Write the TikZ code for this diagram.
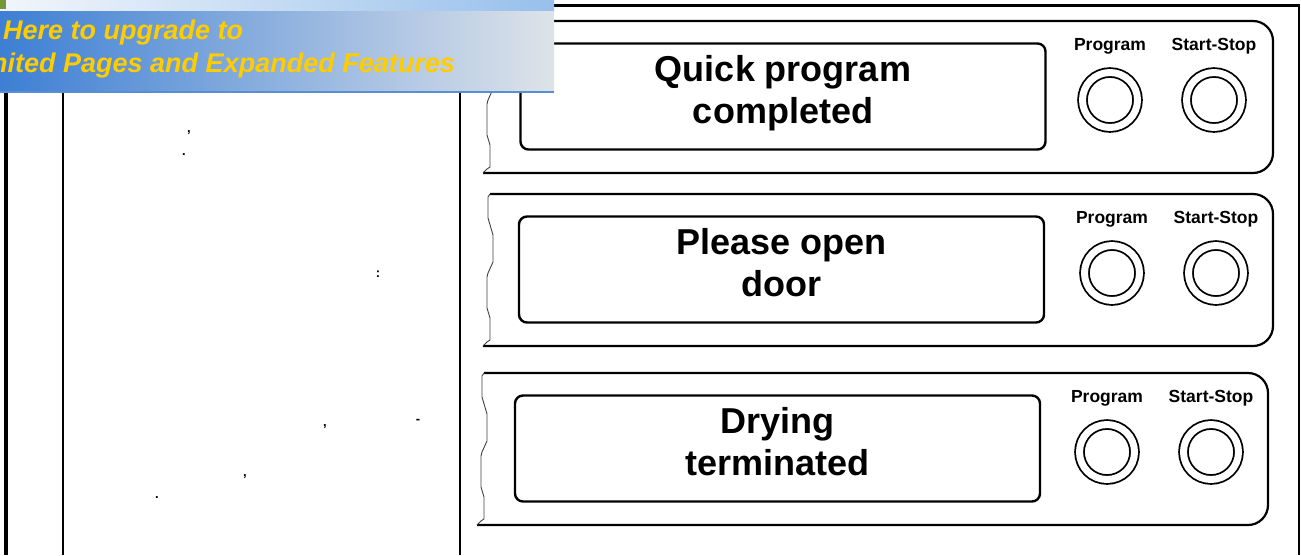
\documentclass[tikz,border=0pt]{standalone}
\usepackage{fontspec}
\setmainfont{Liberation Sans}
\usetikzlibrary{positioning}
\definecolor{bannerL}{HTML}{3D7FD4}
\definecolor{bannerM}{HTML}{8DB1DB}
\definecolor{bannerR}{HTML}{DEE3E9}
\definecolor{stripL}{HTML}{F2F6FB}
\definecolor{stripR}{HTML}{97C0EC}
\definecolor{bannerEdge}{HTML}{5A8ED2}
\definecolor{upgradeYellow}{HTML}{FFCC00}
\definecolor{iconGreen}{HTML}{76963A}

\begin{document}
\begin{tikzpicture}[
  x=1pt,y=-1pt,
  rule/.style={line width=2pt},
  panel/.style={line width=2.2pt, line join=round, rounded corners=20pt},
  torn/.style={line width=0.9pt, black!75},
  display/.style={draw, line width=2.4pt, rounded corners=8pt, minimum width=525pt, minimum height=106pt, align=center, font=\fontsize{36}{42}\selectfont\bfseries, inner sep=0pt, text depth=15pt},
  knob/.style={circle, draw, line width=1.8pt, double, double distance=7pt, minimum size=55pt, inner sep=0pt, outer sep=0pt},
  btnlabel/.style={font=\fontsize{17.5}{17.5}\selectfont\bfseries, inner sep=0pt, text height=12.5pt, text depth=4pt},
  stray/.style={font=\fontsize{13}{13}\selectfont\bfseries, inner sep=0pt},
  bannertext/.style={font=\fontsize{27}{27}\selectfont\bfseries\itshape, text=upgradeYellow, inner sep=0pt, anchor=base west}
]
\useasboundingbox (0,0) rectangle (1301,555);
% table rules
\draw[line width=4pt] (6,0) -- (6,555);
\draw[rule] (63,0) -- (63,555);
\draw[rule] (460,0) -- (460,555);
\draw[rule] (1299,4) -- (1299,555);
\draw[line width=3pt] (0,5) -- (1300,5);
% what is left of the text column
\node[stray] (comma1) at (189,133) {,};
\node[stray] (stop1) at (184,155) {.};
\node[stray] (colon1) at (378,274) {:};
\node[stray] (comma2) at (325,427) {,};
\node[stray] (dash1) at (418,421) {-};
\node[stray] (comma3) at (245,477) {,};
\node[stray] (stop2) at (157,498) {.};
% display panels
\foreach \n/\yt/\xl/\xr/\dx/\kx/\txt in {1/21/487/1273/783/1110/{Quick program\\completed}, 2/194/487/1273/781.5/1112/{Please open\\door}, 3/373/481/1268/777.5/1107/{Drying\\terminated}}{
  \draw[panel] (\xl+3,\yt) -- (\xr,\yt) -- (\xr,\yt+152) -- (\xl-4,\yt+152);
  \draw[torn] (\xl+3,\yt) -- (\xl+1,\yt+3) -- (\xl+1,\yt+24) -- (\xl+6,\yt+41) -- (\xl+6,\yt+68) -- (\xl+1,\yt+79) -- (\xl,\yt+83) -- (\xl,\yt+114) -- (\xl+3,\yt+124) -- (\xl+3,\yt+146) -- (\xl,\yt+148) -- (\xl-4,\yt+152);
  \node[display] (disp\n) at (\dx,\yt+75.5) {\txt};
  \node[knob] (prog\n) at (\kx,\yt+79) {};
  \node[knob, right=49pt of prog\n] (start\n) {};
  \node[btnlabel, above=18pt of prog\n] (proglbl\n) {Program};
  \node[btnlabel, above=18pt of start\n] (startlbl\n) {Start-Stop};
}
% upgrade banner
\shade[left color=stripL, right color=stripR] (0,0) rectangle (554,11);
\shade[left color=bannerL, middle color=bannerM, right color=bannerR] (0,11) rectangle (554,92);
\draw[bannerEdge, line width=2pt] (0,92) -- (554,92);
\fill[iconGreen] (0,0) rectangle (6,9);
\node[bannertext] (upgrade) at (3,39) {Here to upgrade to};
\node[bannertext] (features) at (-9,72) {nited Pages and Expanded Features};
\end{tikzpicture}
\end{document}
